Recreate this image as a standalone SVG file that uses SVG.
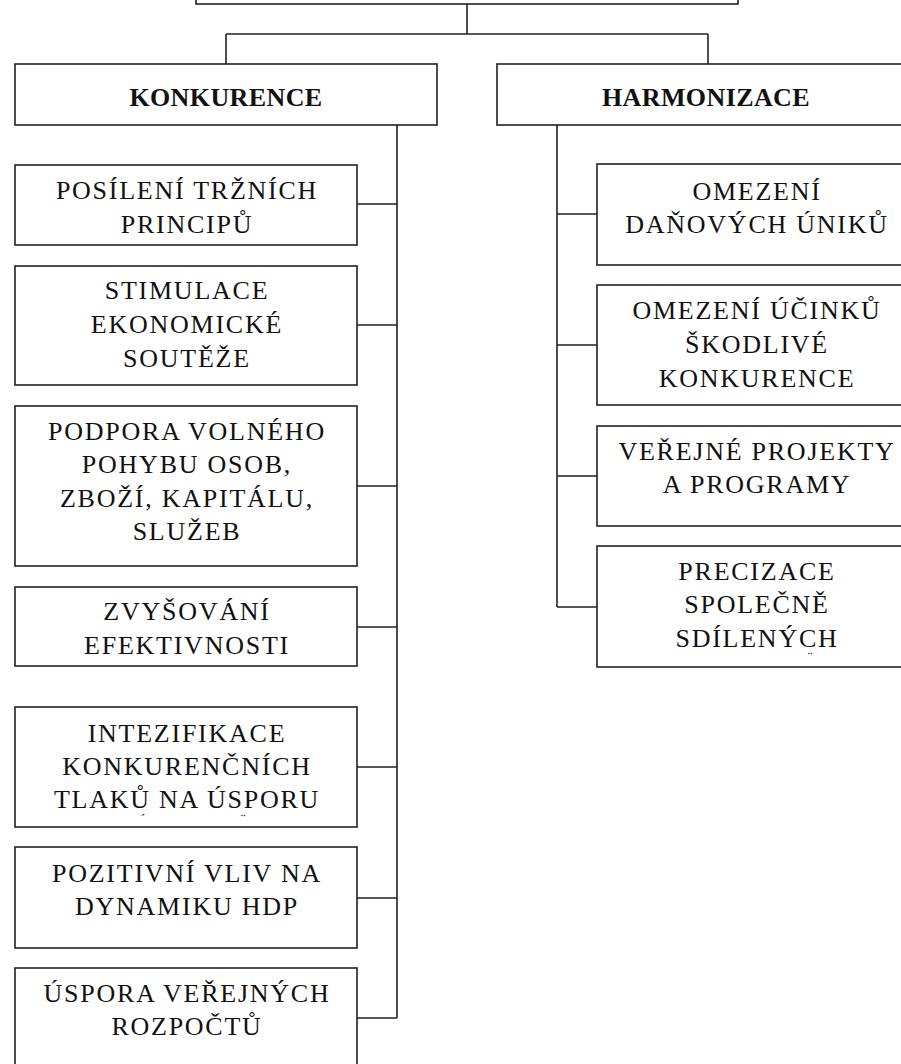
<svg xmlns="http://www.w3.org/2000/svg" width="901" height="1064" viewBox="0 0 901 1064">
<style>
.box{fill:#fff;stroke:#222;stroke-width:1.6}
.ln{fill:none;stroke:#222;stroke-width:1.6}
.t{font-family:"Liberation Serif","Times New Roman",serif;font-size:26px;letter-spacing:1.75px;fill:#111;text-anchor:middle}
.b{font-family:"Liberation Serif","Times New Roman",serif;font-size:26px;font-weight:bold;letter-spacing:0.4px;fill:#111;text-anchor:middle}
.acc{font-family:"Liberation Serif","Times New Roman",serif;font-size:14px;fill:#111;text-anchor:middle}
</style>
<rect width="901" height="1064" fill="#fff"/>
<g id="connectors">
<path class="ln" d="M467 4V34M226 34H708M226 34V64M708 34V64"/>
<path class="ln" d="M397 125V1018M357 204H397M357 325H397M357 486H397M357 627H397M357 767H397M357 898H397M357 1018H397"/>
<path class="ln" d="M557 125V607M557 214H597M557 345H597M557 476H597M557 607H597"/>
</g>
<g id="root"><rect class="box" x="196" y="-50" width="542" height="54"/></g>
<g id="konkurence"><rect class="box" x="15" y="64" width="422" height="61"/><text class="b" x="226" y="106">KONKURENCE</text></g>
<g id="harmonizace"><rect class="box" x="497" y="64" width="440" height="61"/><text class="b" x="706" y="106">HARMONIZACE</text></g>
<g id="k1"><rect class="box" x="15" y="165" width="342" height="80"/><text class="t" x="187" y="199">POSÍLENÍ TRŽNÍCH</text><text class="t" x="187" y="233">PRINCIPŮ</text></g>
<g id="k2"><rect class="box" x="15" y="266" width="342" height="119"/><text class="t" x="187" y="299">STIMULACE</text><text class="t" x="187" y="333">EKONOMICKÉ</text><text class="t" x="187" y="367">SOUTĚŽE</text></g>
<g id="k3"><rect class="box" x="15" y="406" width="342" height="160"/><text class="t" x="187" y="440">PODPORA VOLNÉHO</text><text class="t" x="187" y="473">POHYBU OSOB,</text><text class="t" x="187" y="507">ZBOŽÍ, KAPITÁLU,</text><text class="t" x="187" y="540">SLUŽEB</text></g>
<g id="k4"><rect class="box" x="15" y="587" width="342" height="79"/><text class="t" x="187" y="620">ZVYŠOVÁNÍ</text><text class="t" x="187" y="654">EFEKTIVNOSTI</text></g>
<g id="k5"><rect class="box" x="15" y="707" width="342" height="120"/><text class="t" x="187" y="742">INTEZIFIKACE</text><text class="t" x="187" y="775">KONKURENČNÍCH</text><text class="t" x="187" y="808">TLAKŮ NA ÚSPORU</text><text class="acc" x="143" y="824">´</text><text class="acc" x="243" y="824">¨</text></g>
<g id="k6"><rect class="box" x="15" y="847" width="342" height="101"/><text class="t" x="187" y="882">POZITIVNÍ VLIV NA</text><text class="t" x="187" y="915">DYNAMIKU HDP</text></g>
<g id="k7"><rect class="box" x="15" y="968" width="342" height="130"/><text class="t" x="187" y="1002">ÚSPORA VEŘEJNÝCH</text><text class="t" x="187" y="1035">ROZPOČTŮ</text></g>
<g id="h1"><rect class="box" x="597" y="164" width="318" height="101"/><text class="t" x="757" y="200">OMEZENÍ</text><text class="t" x="757" y="233">DAŇOVÝCH ÚNIKŮ</text></g>
<g id="h2"><rect class="box" x="597" y="285" width="318" height="120"/><text class="t" x="757" y="319">OMEZENÍ ÚČINKŮ</text><text class="t" x="757" y="353">ŠKODLIVÉ</text><text class="t" x="757" y="387">KONKURENCE</text></g>
<g id="h3"><rect class="box" x="597" y="426" width="318" height="100"/><text class="t" x="757" y="460">VEŘEJNÉ PROJEKTY</text><text class="t" x="757" y="493">A PROGRAMY</text></g>
<g id="h4"><rect class="box" x="597" y="546" width="318" height="121"/><text class="t" x="757" y="580">PRECIZACE</text><text class="t" x="757" y="613">SPOLEČNĚ</text><text class="t" x="757" y="647">SDÍLENÝCH</text><text class="acc" x="810" y="662">¨</text></g>
</svg>
